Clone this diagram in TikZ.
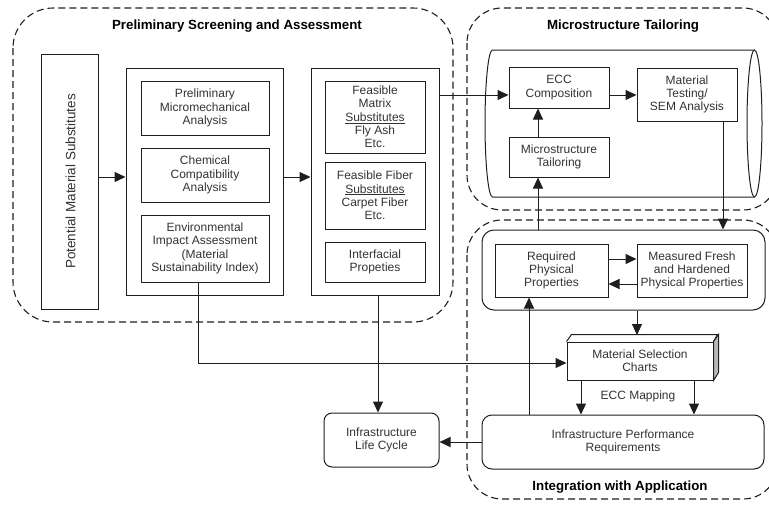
\documentclass[tikz,border=0pt]{standalone}
\usepackage{fontspec}
\setmainfont{Liberation Sans}
\usetikzlibrary{arrows.meta}
\newcommand\bfnt{\fontsize{12}{13.3}\selectfont}
\newcommand\ttlfnt{\fontsize{13.3}{15}\selectfont\bfseries}
\definecolor{linec}{HTML}{1E1E1E}
\definecolor{txtc}{HTML}{333333}
\begin{document}
\begin{tikzpicture}[x=1pt,y=-1pt,
  ln/.style={draw=linec, line width=1pt},
  box/.style={ln, inner sep=0pt, text=txtc, align=center, font=\bfnt},
  rbox/.style={box, rounded corners=#1},
  grp/.style={draw=linec, line width=1.1pt, dash pattern=on 7pt off 4pt},
  arr/.style={ln, -{Triangle[length=11pt,width=10pt]}},
  ttl/.style={font=\ttlfnt, text=black, inner sep=0pt}]
\useasboundingbox (0,0) rectangle (769,504);
\clip (0,0) rectangle (769,504);

% dashed groups
\draw[grp, rounded corners=40pt] (13,8) rectangle (453,322);
\draw[grp, rounded corners=35pt] (467,8) rectangle (778,210);
\draw[grp, rounded corners=35pt] (467,220) rectangle (778,499);
\node[ttl] (t1) at (237,26) {Preliminary Screening and Assessment};
\node[ttl] (t2) at (623,26) {Microstructure Tailoring};
\node[ttl] (t3) at (620,487) {Integration with Application};

% left column
\node[box, minimum width=57pt, minimum height=255pt] (pms) at (69.5,181.5) {};
\node[rotate=90, text=txtc, font=\fontsize{13.5}{15}\selectfont, inner sep=0pt] (pmst) at ([xshift=1pt]pms.center) {Potential Material Substitutes};

\node[box, minimum width=157pt, minimum height=227pt] (b2) at (204.5,181.5) {};
\node[box, minimum width=128pt, minimum height=54pt] (pm) at (205,108) {Preliminary\\Micromechanical\\Analysis};
\node[box, minimum width=128pt, minimum height=54pt] (cc) at (205,175) {Chemical\\Compatibility\\Analysis};
\node[box, minimum width=128pt, minimum height=67pt] (env) at (205,248.5) {Environmental\\Impact Assessment\\(Material\\Sustainability Index)};

\node[box, minimum width=128pt, minimum height=227pt] (b3) at (375,181.5) {};
\node[box, minimum width=100pt, minimum height=72pt] (fm) at (375,117) {Feasible\\Matrix\\\underline{Substitutes}\\Fly Ash\\Etc.};
\node[box, minimum width=100pt, minimum height=67pt] (ff) at (375,195.5) {Feasible Fiber\\\underline{Substitutes}\\Carpet Fiber\\Etc.};
\node[box, minimum width=100pt, minimum height=40pt] (ip) at (375,262) {Interfacial\\Propeties};

% cylinder
\draw[ln] (754.5,50) -- (492.5,50) arc[start angle=270, end angle=90, x radius=7.5, y radius=73.5] -- (754.5,197);
\draw[ln] (754.5,123.5) ellipse[x radius=7.5, y radius=73.5];

\node[box, minimum width=100pt, minimum height=41pt] (ecc) at (559,87.5) {ECC\\Composition};
\node[box, minimum width=100pt, minimum height=53pt] (mt) at (687,94.5) {Material\\Testing/\\SEM Analysis};
\node[box, minimum width=100pt, minimum height=40pt] (mst) at (559,157) {Microstructure\\Tailoring};

% integration
\node[rbox=12pt, minimum width=283pt, minimum height=80pt] (rr) at (623.5,270) {};
\node[box, minimum width=113pt, minimum height=53pt] (rpp) at (551.5,270.5) {Required\\Physical\\Properties};
\node[box, minimum width=110pt, minimum height=53pt] (mfh) at (692,270.5) {Measured Fresh\\and Hardened\\Physical Properties};

\node[box, minimum width=146pt, minimum height=38pt] (msc) at (640,361) {Material Selection\\Charts};
\draw[ln] (msc.north west) -- ++(5,-7) -- ++(146,0) -- (msc.north east);
\filldraw[ln, fill=gray!55] (msc.north east) -- ++(5,-7) -- ++(0,38) -- (msc.south east) -- cycle;
\coordinate (msctop) at (637,335);

\node[rbox=10pt, minimum width=282pt, minimum height=54pt] (ipr) at (623,442) {Infrastructure Performance\\Requirements};
\node[rbox=8pt, minimum width=115pt, minimum height=54pt] (ilc) at (381.5,440) {Infrastructure\\Life Cycle};

\node[text=txtc, font=\bfnt, inner sep=0pt] (map) at (638,396) {ECC Mapping};

% connectors
\draw[arr] (pms.east |- 0,177) -- (b2.west |- 0,177);
\draw[arr] (b2.east |- 0,177) -- (b3.west |- 0,177);
\draw[arr] (b3.east |- 0,95) -- (ecc.west |- 0,95);
\draw[arr] (ecc.east |- 0,95) -- (mt.west |- 0,95);
\draw[arr] (mst.north -| 538,0) -- (ecc.south -| 538,0);
\draw[arr] (mt.south -| 723,0) -- (rr.north -| 723,0);
\draw[arr] (rr.north -| 538,0) -- (mst.south -| 538,0);
\draw[arr] (rpp.east |- 0,259) -- (mfh.west |- 0,259);
\draw[arr] (mfh.west |- 0,284) -- (rpp.east |- 0,284);
\draw[arr] (rr.south -| msctop) -- (msctop);
\draw[arr] (env.south -| 198,0) |- (msc.west |- 0,363);
\draw[arr] (msc.south -| 581,0) -- (ipr.north -| 581,0);
\draw[arr] (msc.south -| 694,0) -- (ipr.north -| 694,0);
\draw[arr] (ipr.north -| 529,0) -- (rpp.south -| 529,0);
\draw[arr] (b3.south -| 378,0) -- (ilc.north -| 378,0);
\draw[arr] (ipr.west |- 0,442) -- (ilc.east |- 0,442);
\end{tikzpicture}
\end{document}
